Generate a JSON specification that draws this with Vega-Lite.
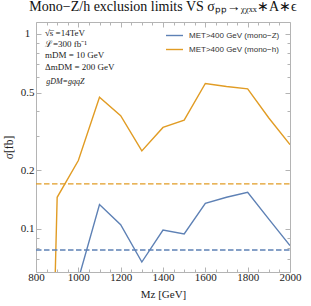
{
  "$schema": "https://vega.github.io/schema/vega-lite/v6.json",
  "width": 254,
  "height": 250,
  "autosize": {"type": "none"},
  "padding": {"left": 36, "top": 22, "right": 21, "bottom": 34},
  "config": {"view": {"stroke": null}, "font": "Liberation Serif"},
  "title": {
    "text": "Mono−Z/h exclusion limits VS σₚₚ→ᵪᵪₓₓ∗A∗ϵ",
    "font": "Liberation Serif",
    "fontSize": 14,
    "fontWeight": "normal",
    "color": "#111",
    "anchor": "middle",
    "offset": 8
  },
  "datasets": {
    "curves": [
      {"mz": 1000, "sigma": 0.055, "series": "MET>400 GeV (mono−Z)"},
      {"mz": 1100, "sigma": 0.133, "series": "MET>400 GeV (mono−Z)"},
      {"mz": 1200, "sigma": 0.105, "series": "MET>400 GeV (mono−Z)"},
      {"mz": 1300, "sigma": 0.0675, "series": "MET>400 GeV (mono−Z)"},
      {"mz": 1400, "sigma": 0.0985, "series": "MET>400 GeV (mono−Z)"},
      {"mz": 1500, "sigma": 0.094, "series": "MET>400 GeV (mono−Z)"},
      {"mz": 1600, "sigma": 0.135, "series": "MET>400 GeV (mono−Z)"},
      {"mz": 1700, "sigma": 0.145, "series": "MET>400 GeV (mono−Z)"},
      {"mz": 1800, "sigma": 0.154, "series": "MET>400 GeV (mono−Z)"},
      {"mz": 1900, "sigma": 0.112, "series": "MET>400 GeV (mono−Z)"},
      {"mz": 2000, "sigma": 0.082, "series": "MET>400 GeV (mono−Z)"},
      {"mz": 880, "sigma": 0.02, "series": "MET>400 GeV (mono−h)"},
      {"mz": 900, "sigma": 0.145, "series": "MET>400 GeV (mono−h)"},
      {"mz": 1000, "sigma": 0.224, "series": "MET>400 GeV (mono−h)"},
      {"mz": 1100, "sigma": 0.473, "series": "MET>400 GeV (mono−h)"},
      {"mz": 1200, "sigma": 0.38, "series": "MET>400 GeV (mono−h)"},
      {"mz": 1300, "sigma": 0.251, "series": "MET>400 GeV (mono−h)"},
      {"mz": 1400, "sigma": 0.331, "series": "MET>400 GeV (mono−h)"},
      {"mz": 1500, "sigma": 0.361, "series": "MET>400 GeV (mono−h)"},
      {"mz": 1600, "sigma": 0.556, "series": "MET>400 GeV (mono−h)"},
      {"mz": 1700, "sigma": 0.537, "series": "MET>400 GeV (mono−h)"},
      {"mz": 1800, "sigma": 0.522, "series": "MET>400 GeV (mono−h)"},
      {"mz": 1900, "sigma": 0.37, "series": "MET>400 GeV (mono−h)"},
      {"mz": 2000, "sigma": 0.27, "series": "MET>400 GeV (mono−h)"}
    ],
    "limits": [
      {"limit": 0.0778, "series": "MET>400 GeV (mono−Z)"},
      {"limit": 0.17, "series": "MET>400 GeV (mono−h)"}
    ],
    "notes": [
      {"mz": 842, "sigma": 0.98, "label": "√s̅ =14TeV"},
      {"mz": 842, "sigma": 0.861, "label": "ℒ=300 fb⁻¹"},
      {"mz": 842, "sigma": 0.756, "label": "mDM = 10 GeV"},
      {"mz": 842, "sigma": 0.654, "label": "ΔmDM = 200 GeV"}
    ],
    "notes2": [
      {"mz": 848, "sigma": 0.556, "label": "gDM=gqqZ"}
    ]
  },
  "layer": [
    {
      "data": {"name": "curves"},
      "mark": {"type": "line", "strokeWidth": 1.4, "clip": true},
      "encoding": {
        "x": {
          "field": "mz", "type": "quantitative",
          "scale": {"domain": [800, 2000], "nice": false, "zero": false},
          "axis": {
            "orient": "bottom",
            "values": [800, 850, 900, 950, 1000, 1050, 1100, 1150, 1200, 1250, 1300, 1350, 1400, 1450, 1500, 1550, 1600, 1650, 1700, 1750, 1800, 1850, 1900, 1950, 2000],
            "labelExpr": "datum.value % 200 === 0 ? datum.label : ''",
            "format": "d",
            "grid": false,
            "domainColor": "#b4b4b4",
            "tickColor": "#b4b4b4",
            "tickSize": {"condition": {"test": "datum.value % 200 === 0", "value": -5}, "value": -3},
            "labelFont": "Liberation Serif",
            "labelFontSize": 11,
            "labelColor": "#222",
            "labelPadding": 4,
            "labelFlush": false,
            "labelOverlap": false,
            "title": "Mᴢ [GeV]",
            "titleFont": "Liberation Serif",
            "titleFontSize": 11,
            "titleFontWeight": "normal",
            "titleColor": "#222",
            "titlePadding": 4
          }
        },
        "y": {
          "field": "sigma", "type": "quantitative",
          "scale": {"type": "log", "domain": [0.06, 1.15], "nice": false},
          "axis": {
            "orient": "left",
            "values": [0.06, 0.07, 0.08, 0.09, 0.1, 0.2, 0.3, 0.4, 0.5, 0.6, 0.7, 0.8, 0.9, 1],
            "labelExpr": "indexof([0.1, 0.2, 0.5, 1], datum.value) >= 0 ? datum.label : ''",
            "format": "~g",
            "grid": false,
            "domainColor": "#b4b4b4",
            "tickColor": "#b4b4b4",
            "tickSize": {"condition": {"test": "indexof([0.1, 0.2, 0.5, 1], datum.value) >= 0", "value": -5}, "value": -3},
            "labelFont": "Liberation Serif",
            "labelFontSize": 11,
            "labelColor": "#222",
            "labelAlign": "center",
            "labelPadding": 14,
            "labelOverlap": false,
            "title": "σ[fb]",
            "titleFont": "Liberation Serif",
            "titleFontSize": 11.5,
            "titleFontWeight": "normal",
            "titleColor": "#222",
            "titlePadding": 6
          }
        },
        "color": {
          "field": "series", "type": "nominal",
          "scale": {"domain": ["MET>400 GeV (mono−Z)", "MET>400 GeV (mono−h)"], "range": ["#5E81B5", "#E19C24"]},
          "legend": {
            "orient": "none",
            "legendX": 129,
            "legendY": 4,
            "title": null,
            "symbolType": "stroke",
            "symbolSize": 289,
            "symbolStrokeWidth": 1.4,
            "labelFont": "Liberation Sans",
            "labelFontSize": 8,
            "labelColor": "#333",
            "labelOffset": 5,
            "rowPadding": -0.6,
            "padding": 0
          }
        }
      }
    },
    {
      "data": {"name": "limits"},
      "mark": {"type": "rule", "strokeWidth": 1.4, "strokeDash": [5.5, 2.5]},
      "encoding": {
        "x": {
          "datum": 800, "type": "quantitative",
          "axis": {
            "orient": "top",
            "values": [800, 850, 900, 950, 1000, 1050, 1100, 1150, 1200, 1250, 1300, 1350, 1400, 1450, 1500, 1550, 1600, 1650, 1700, 1750, 1800, 1850, 1900, 1950, 2000],
            "labels": false,
            "grid": false,
            "title": null,
            "domainColor": "#b4b4b4",
            "tickColor": "#b4b4b4",
            "tickSize": {"condition": {"test": "datum.value % 200 === 0", "value": -5}, "value": -3}
          }
        },
        "x2": {"datum": 2000},
        "y": {
          "field": "limit", "type": "quantitative",
          "axis": {
            "orient": "right",
            "values": [0.06, 0.07, 0.08, 0.09, 0.1, 0.2, 0.3, 0.4, 0.5, 0.6, 0.7, 0.8, 0.9, 1],
            "labels": false,
            "grid": false,
            "title": null,
            "domainColor": "#b4b4b4",
            "tickColor": "#b4b4b4",
            "tickSize": {"condition": {"test": "indexof([0.1, 0.2, 0.5, 1], datum.value) >= 0", "value": -5}, "value": -3}
          }
        },
        "color": {"field": "series", "type": "nominal"}
      }
    },
    {
      "data": {"name": "notes"},
      "mark": {"type": "text", "align": "left", "baseline": "alphabetic", "font": "Liberation Serif", "fontSize": 9, "color": "#222"},
      "encoding": {
        "x": {"field": "mz", "type": "quantitative", "axis": null},
        "y": {"field": "sigma", "type": "quantitative", "axis": null},
        "text": {"field": "label"}
      }
    },
    {
      "data": {"name": "notes2"},
      "mark": {"type": "text", "align": "left", "baseline": "alphabetic", "font": "Liberation Serif", "fontSize": 8, "fontStyle": "italic", "color": "#222"},
      "encoding": {
        "x": {"field": "mz", "type": "quantitative", "axis": null},
        "y": {"field": "sigma", "type": "quantitative", "axis": null},
        "text": {"field": "label"}
      }
    }
  ],
  "resolve": {"axis": {"x": "independent", "y": "independent"}}
}
